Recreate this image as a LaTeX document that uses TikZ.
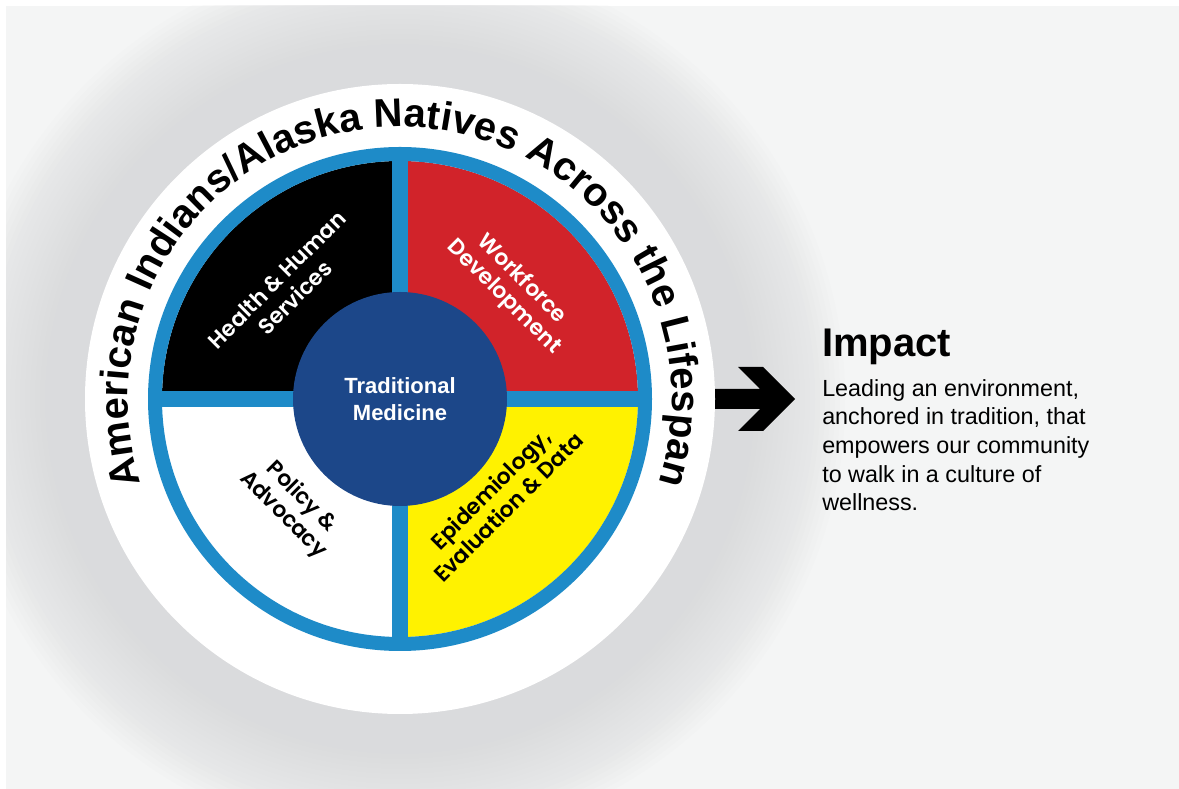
\documentclass[tikz,border=0pt]{standalone}
\usepackage{fontspec}
\setmainfont{Liberation Sans}
\IfFontExistsTF{Poppins SemiBold}
  {\newfontfamily\quadfont{Poppins SemiBold}}
  {\newfontfamily\quadfont{Poppins}}
\usetikzlibrary{calc,positioning,decorations.text}

\definecolor{pagebg}{HTML}{F4F5F5}
\definecolor{halogray}{HTML}{DADBDD}
\definecolor{ringblue}{HTML}{1E8BC8}
\definecolor{coreblue}{HTML}{1C4789}
\definecolor{wheelred}{HTML}{D1232A}
\definecolor{wheelyellow}{HTML}{FFF200}

\newcommand{\rimfont}{\bfseries\fontsize{30}{36}\selectfont}

\tikzstyle{quadlabel}=[align=center, inner sep=0pt,
                       font=\quadfont\fontsize{16.5}{19}\selectfont]
\tikzstyle{ringline}=[ringblue, line width=12pt]

\begin{document}
\begin{tikzpicture}[x=0.75pt, y=0.75pt]

\useasboundingbox (0, 0) rectangle (1179, 789);
\fill [white] (0, 0) rectangle (1179, 789);
\fill [pagebg] (6, 0) rectangle (1179, 783);

\coordinate (wheel) at (400, 390);

%%%%%%%%%%%%%%%%%%
%%%%%%%%%%%%%%%%%%
% soft shadow round the wheel
\begin{scope}
\clip (6, 0) rectangle (1179, 783);
\foreach \r in {320, 325, ..., 445}
  \fill [halogray, opacity=0.075] (wheel) circle [radius=\r];
\end{scope}

%%%%%%%%%%%%%%%%%%
\coordinate (arrow_tail) at (700, 390);

\coordinate (arrow_tip) at (795, 390);

\fill [black] (arrow_tail) ++(0, 10) -- ++(60, 0) -- ++(-22, 22) -- ++(25, 0) -- (arrow_tip)
      -- ++(-32, -32) -- ++(-25, 0) -- ++(22, 22) -- ++(-60, 0) -- cycle;

%%%%%%%%%%%%%%%%%%
\fill [white] (wheel) circle [radius=315];

\path [decorate, decoration={text along path, text align={fit to path},
       text={|\rimfont|American Indians/Alaska Natives Across the Lifespan}}]
      ($(wheel)+(198:272)$) arc [start angle=198, end angle=-18, radius=272];

%%%%%%%%%%%%%%%%%%
\fill [black] (wheel) -- ++(90:238) arc [start angle=90, end angle=180, radius=238] -- cycle;

\fill [wheelred] (wheel) -- ++(0:238) arc [start angle=0, end angle=90, radius=238] -- cycle;

\fill [white] (wheel) -- ++(180:238) arc [start angle=180, end angle=270, radius=238] -- cycle;

\fill [wheelyellow] (wheel) -- ++(270:238) arc [start angle=270, end angle=360, radius=238] -- cycle;

\draw [ringline] ($(wheel)+(0, 240)$) -- ($(wheel)+(0, -240)$);

\draw [ringline] ($(wheel)+(-240, 0)$) -- ($(wheel)+(240, 0)$);

\draw [ringblue, line width=10.5pt] (wheel) circle [radius=245];

%%%%%%%%%%%%%%%%%%
\node (core) at (wheel) [circle, fill=coreblue, minimum size=160.5pt, inner sep=0pt,
      align=center, text=white, font=\bfseries\fontsize{16.5}{20}\selectfont] {Traditional\\Medicine};

\node (health) at ($(wheel)+(136:159)$) [quadlabel, text=white, rotate=45] {Health \& Human\\Services};

\node (workforce) at ($(wheel)+(44.5:158)$) [quadlabel, text=white, rotate=-45] {Workforce\\Development};

\node (epi) at ($(wheel)+(-45:140)$) [quadlabel, text=black, rotate=45] {Epidemiology,\\Evaluation \& Data};

\node (policy) at ($(wheel)+(224.7:152)$) [quadlabel, text=black, rotate=-45] {Policy \&\\Advocacy};

%%%%%%%%%%%%%%%%%%%%
%%%%%%%%%%%%%%%%%%%%
\node (impact) at (822, 432) [anchor=base west, inner sep=0pt,
      font=\bfseries\fontsize{30}{36}\selectfont] {Impact};

\node (mission) at (822, 410) [anchor=north west, inner sep=0pt, align=left,
      font=\fontsize{17.5}{21.5}\selectfont] {Leading an environment,\\anchored in tradition, that\\empowers our community\\to walk in a culture of\\wellness.};

\end{tikzpicture}
\end{document}
